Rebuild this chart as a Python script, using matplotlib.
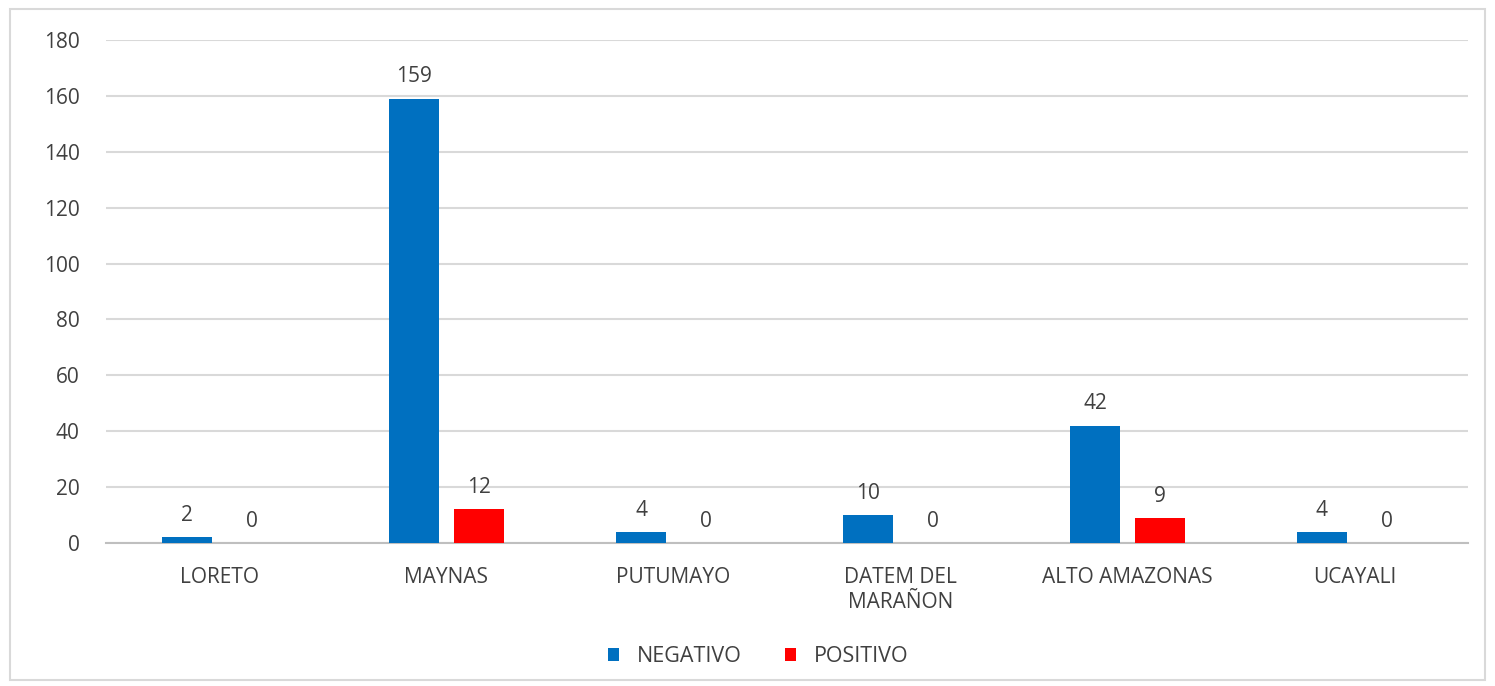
import numpy as np
import matplotlib.pyplot as plt
from matplotlib.patches import Rectangle

categories = ["LORETO", "MAYNAS", "PUTUMAYO", "DATEM DEL\nMARAÑON", "ALTO AMAZONAS", "UCAYALI"]
negativo = [2, 159, 4, 10, 42, 4]
positivo = [0, 12, 0, 0, 9, 0]

plt.rcParams['font.family'] = ['Open Sans', 'DejaVu Sans']

fig = plt.figure(figsize=(14.95, 6.86), dpi=100)
ax = fig.add_axes([0.0709, 0.2085, 0.911, 0.7332])

# outer chart border
fig.patches.append(Rectangle((0.007, 0.009), 0.986, 0.978, transform=fig.transFigure,
                             fill=False, edgecolor='#d9d9d9', lw=1.5))

x = np.arange(len(categories))
w = 0.22
off = 0.143
b1 = ax.bar(x - off, negativo, w, color='#0070C0', label='NEGATIVO', zorder=3)
b2 = ax.bar(x + off, positivo, w, color='#FF0000', label='POSITIVO', zorder=3)

for bars, vals in ((b1, negativo), (b2, positivo)):
    for r, v in zip(bars, vals):
        ax.text(r.get_x() + r.get_width() / 2, v + 4, str(v), ha='center', va='bottom',
                fontsize=15, color='#404040')

ax.set_xlim(-0.5, len(categories) - 0.5)
ax.set_ylim(0, 180)
ax.set_yticks(np.arange(0, 181, 20))
ax.grid(axis='y', color='#d9d9d9', lw=1.5, zorder=0)
for s in ['top', 'right', 'left']:
    ax.spines[s].set_visible(False)
ax.spines['bottom'].set_color('#bfbfbf')
ax.spines['bottom'].set_linewidth(1.5)
ax.tick_params(axis='both', length=0, labelsize=15, colors='#404040')
ax.tick_params(axis='y', pad=19)
ax.tick_params(axis='x', pad=17)
ax.set_xticks(x)
ax.set_xticklabels(categories, linespacing=1.25)

fig.legend(loc='center', bbox_to_anchor=(0.507, 0.043), ncol=2, frameon=False,
           fontsize=15.5, handlelength=0.55, handleheight=0.55, handletextpad=0.8,
           columnspacing=2.0, labelcolor='#404040')

fig.savefig('out.png')
